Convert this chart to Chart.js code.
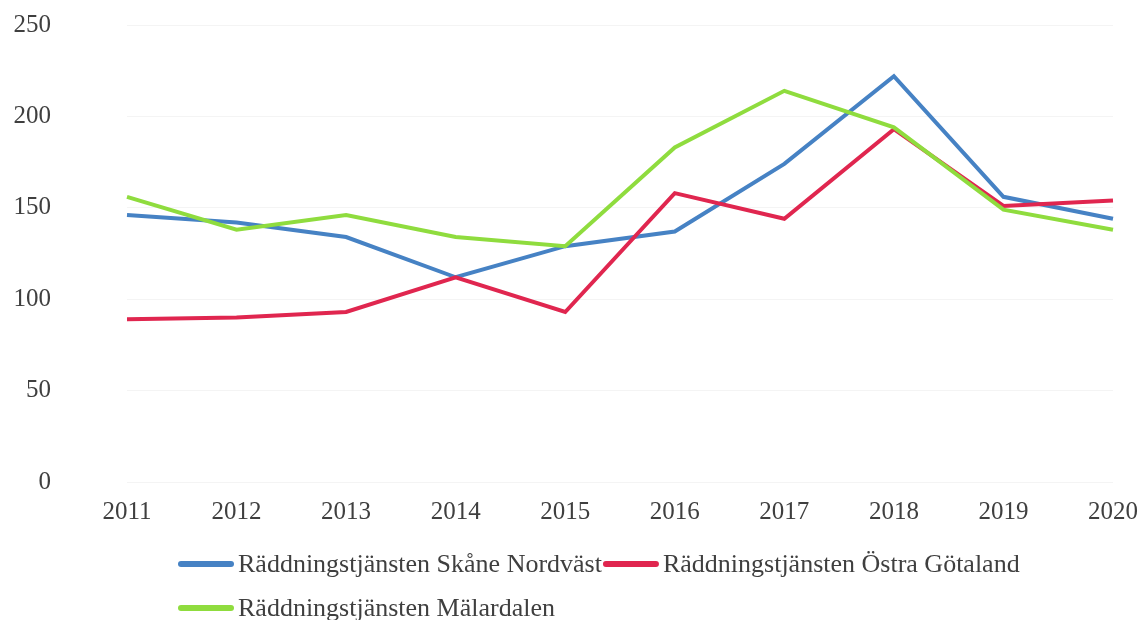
<!DOCTYPE html>
<html>
<head>
<meta charset="utf-8">
<script src="https://cdn.jsdelivr.net/npm/chart.js@4"></script>
<style>
    html, body { margin: 0; padding: 0; background: #fff; }
    #wrap { width: 1147px; height: 620px; }
</style>
</head>
<body>
<div id="wrap"><canvas id="chart" width="1147" height="620"></canvas></div>
<script>
// --- DATA ---
const years = ['2011', '2012', '2013', '2014', '2015', '2016', '2017', '2018', '2019', '2020'];
const seriesNames = [
    'Räddningstjänsten Skåne Nordväst',
    'Räddningstjänsten Östra Götaland',
    'Räddningstjänsten Mälardalen'
];
const skaneNordvast = [146, 142, 134, 112, 129, 137, 174, 222, 156, 144];
const ostraGotaland = [89, 90, 93, 112, 93, 158, 144, 193, 151, 154];
const malardalen = [156, 138, 146, 134, 129, 183, 214, 194, 149, 138];
const yMin = 0, yMax = 250, yStep = 50;

const colors = ['#4682c4', '#e0264f', '#8fdc3e'];
const textColor = '#3f3f3f';
const serif = '"Liberation Serif", "DejaVu Serif", serif';

// Legend drawn on the canvas: line marker + label, rows wrap left aligned like the original
const bottomLegend = {
    id: 'bottomLegend',
    afterDraw(chart) {
        const ctx = chart.ctx;
        const startX = 178, firstRowY = 564, rowGap = 44;
        const markerW = 56, textGap = 4, itemGap = 1;
        let x = startX, y = firstRowY;

        ctx.save();
        ctx.font = '26px ' + serif;
        ctx.textBaseline = 'middle';
        chart.data.datasets.forEach(ds => {
            const textW = ctx.measureText(ds.label).width;
            const itemW = markerW + textGap + textW;
            if (x + itemW > chart.width && x !== startX) {
                x = startX;
                y += rowGap;
            }
            ctx.strokeStyle = ds.borderColor;
            ctx.lineWidth = 6;
            ctx.lineCap = 'round';
            ctx.beginPath();
            ctx.moveTo(x + 3, y);
            ctx.lineTo(x + markerW - 3, y);
            ctx.stroke();

            ctx.fillStyle = textColor;
            ctx.fillText(ds.label, x + markerW + textGap, y + 1);
            x += itemW + itemGap;
        });
        ctx.restore();
    }
};

const makeDataset = (i, values, order) => ({
    label: seriesNames[i],
    data: values,
    borderColor: colors[i],
    backgroundColor: colors[i],
    borderWidth: 4,
    pointRadius: 0,
    pointHoverRadius: 0,
    tension: 0,
    order: order
});

new Chart(document.getElementById('chart'), {
    type: 'line',
    data: {
        labels: years,
        datasets: [
            makeDataset(0, skaneNordvast, 2),
            makeDataset(1, ostraGotaland, 1),
            makeDataset(2, malardalen, 0)
        ]
    },
    options: {
        responsive: false,
        animation: false,
        layout: { padding: { top: 25, right: 34, bottom: 88, left: 0 } },
        plugins: {
            legend: { display: false },
            tooltip: { enabled: false }
        },
        scales: {
            x: {
                offset: false,
                grid: { display: false },
                border: { display: false },
                ticks: {
                    color: textColor,
                    font: { family: serif, size: 25 },
                    padding: 7,
                    maxRotation: 0
                },
                afterFit(scale) {
                    scale.height = 50;
                    scale.paddingLeft = 0;
                    scale.paddingRight = 0;
                }
            },
            y: {
                min: yMin,
                max: yMax,
                grid: { color: '#f4f4f4', drawTicks: false },
                border: { display: false },
                ticks: {
                    stepSize: yStep,
                    color: textColor,
                    font: { family: serif, size: 25 },
                    padding: 76
                },
                afterFit(scale) {
                    // the big label padding would otherwise push the plot down
                    scale.width = 127;
                    scale.paddingTop = 0;
                    scale.paddingBottom = 0;
                }
            }
        }
    },
    plugins: [bottomLegend]
});
</script>
</body>
</html>
